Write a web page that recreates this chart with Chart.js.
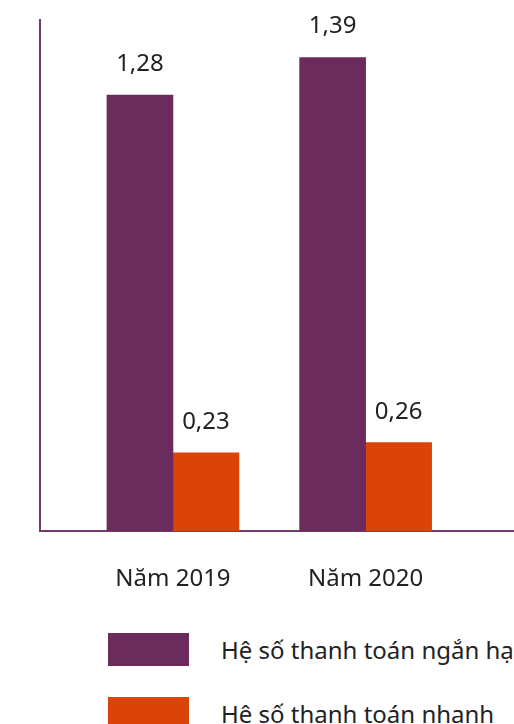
<!DOCTYPE html>
<html>
<head>
<meta charset="utf-8">
<script src="https://cdn.jsdelivr.net/npm/chart.js@4/dist/chart.umd.min.js"></script>
<style>
  body { margin: 0; background: #fff; width: 514px; height: 724px; overflow: hidden; position: relative; font-family: "Noto Sans", sans-serif; }
  #chart-box { position: absolute; left: 0; top: 0; width: 514px; height: 628px; }
  .legend-item { position: absolute; left: 108px; white-space: nowrap; font-size: 24px; color: #222; }
  .legend-item span.box { position: absolute; left: 0; top: 0; width: 81px; height: 33px; }
  .legend-item span.txt { position: absolute; left: 113px; top: 0; line-height: 33px; }
</style>
</head>
<body>
<div id="chart-box"><canvas id="ratio-chart"></canvas></div>
<div id="legend"></div>

<script>
const categories = ['Năm 2019', 'Năm 2020'];
const seriesNames = ['Hệ số thanh toán ngắn hạn', 'Hệ số thanh toán nhanh'];
const currentRatio = [1.28, 1.39];
const quickRatio = [0.23, 0.26];
const seriesColors = ['#6b2b5c', '#da4507'];

const chartElement = document.getElementById('ratio-chart');
const legendElement = document.getElementById('legend');

function toPoints(values) {
    return values.map((v, i) => ({ x: i, y: v }));
}

// value labels above each bar, comma as decimal mark
const valueLabels = {
    id: 'valueLabels',
    afterDatasetsDraw(chart) {
        const ctx = chart.ctx;
        ctx.save();
        ctx.font = '24px "Noto Sans"';
        ctx.fillStyle = '#222';
        ctx.textAlign = 'center';
        ctx.textBaseline = 'alphabetic';
        chart.data.datasets.forEach((ds, d) => {
            chart.getDatasetMeta(d).data.forEach((bar, i) => {
                const text = ds.data[i].y.toFixed(2).replace('.', ',');
                ctx.fillText(text, bar.x, bar.y - 24);
            });
        });
        ctx.restore();
    }
};

new Chart(chartElement, {
    type: 'bar',
    data: {
        datasets: [
            { label: seriesNames[0], data: toPoints(currentRatio), backgroundColor: seriesColors[0], barThickness: 66 },
            { label: seriesNames[1], data: toPoints(quickRatio), backgroundColor: seriesColors[1], barThickness: 66 }
        ]
    },
    options: {
        responsive: true,
        maintainAspectRatio: false,
        animation: false,
        layout: { padding: { left: 40, top: 20, right: 0, bottom: 0 } },
        plugins: {
            legend: { display: false },
            tooltip: { enabled: false }
        },
        scales: {
            x: {
                type: 'linear',
                offset: false,
                min: -0.69,
                max: 1.77,
                grid: { display: false, drawTicks: false, offset: false },
                border: { color: '#763a6a', width: 2 },
                ticks: {
                    stepSize: 1,
                    includeBounds: false,
                    padding: 34,
                    color: '#222',
                    font: { family: 'Noto Sans', size: 24 },
                    callback: (v) => Number.isInteger(v) ? categories[v] : ''
                }
            },
            y: {
                min: 0,
                max: 1.5,
                grid: { display: false, drawTicks: false },
                border: { color: '#763a6a', width: 2 },
                ticks: { display: false }
            }
        }
    },
    plugins: [valueLabels]
});

// legend
seriesNames.forEach((name, i) => {
    const item = document.createElement('div');
    item.className = 'legend-item';
    item.style.top = (633 + i * 64) + 'px';
    item.innerHTML = `<span class="box" style="background:${seriesColors[i]}"></span><span class="txt">${name}</span>`;
    legendElement.appendChild(item);
});
</script>
</body>
</html>
